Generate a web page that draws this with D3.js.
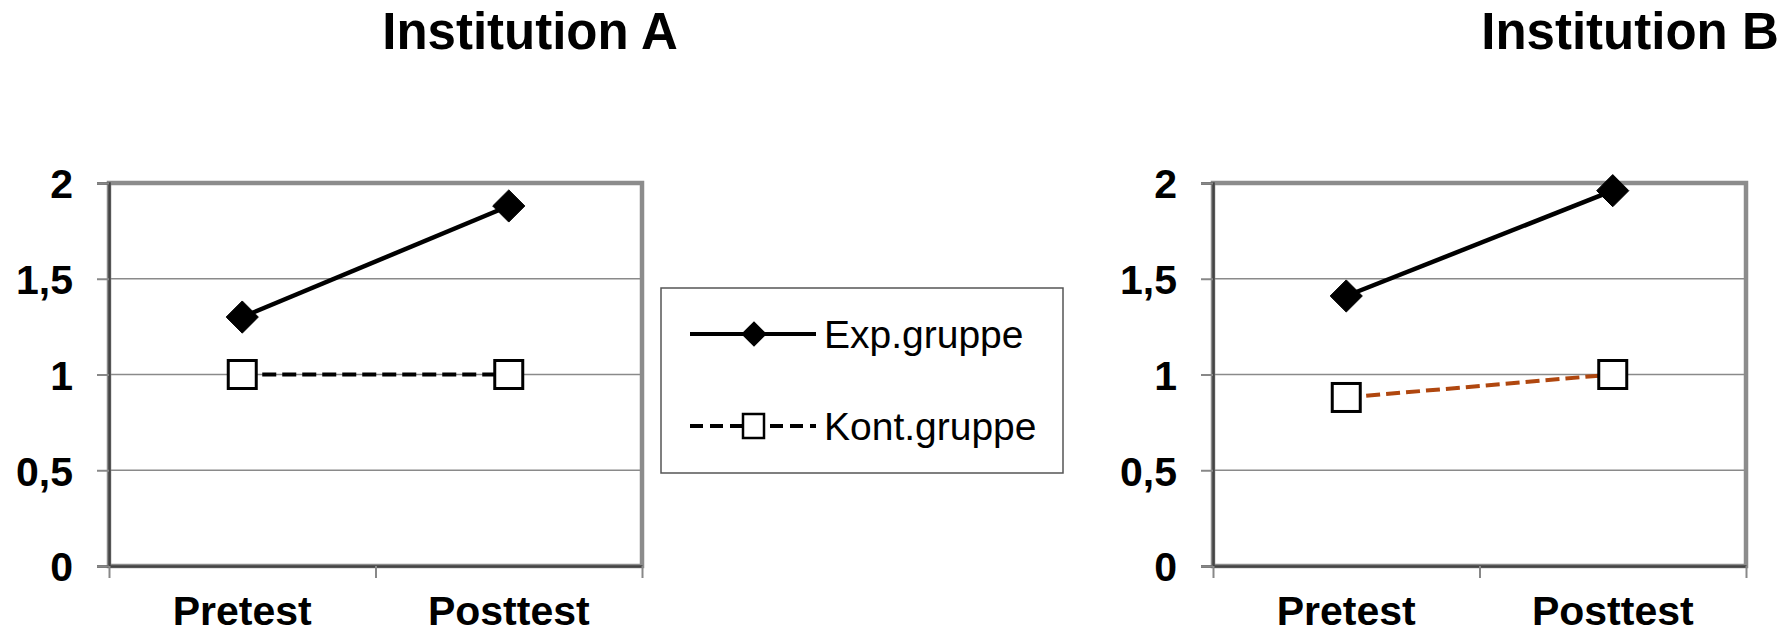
<!DOCTYPE html>
<html>
<head>
<meta charset="utf-8">
<script src="https://cdn.jsdelivr.net/npm/d3@7"></script>
<style>
  body { margin: 0; background: #fff; }
  text { font-family: "Liberation Sans", Arial, sans-serif; }
</style>
</head>
<body>
<div class="chart"></div>
<script>
const width = 1787;
const height = 633;

// data
const phases = ["Pretest", "Posttest"];
const yTicks = [0, 0.5, 1, 1.5, 2];
const groups = ["Exp.gruppe", "Kont.gruppe"];
const instA_exp = [1.30, 1.88];
const instA_kont = [1.0, 1.0];
const instB_exp = [1.41, 1.96];
const instB_kont = [0.88, 1.0];

const panels = [
  {title: "Institution A", left: 109, titleX: 530, exp: instA_exp, kont: instA_kont, kontColor: "#000"},
  {title: "Institution B", left: 1213, titleX: 1630, exp: instB_exp, kont: instB_kont, kontColor: "#b0470f"}
];

const plotW = 533;
const plotTop = 183;
const plotBottom = 566;

const de = d3.formatLocale({decimal: ",", thousands: ".", grouping: [3], currency: ["", "€"]});
const fmt = de.format(".1~f");

const svg = d3.select('.chart').append('svg')
    .attr('width', width)
    .attr('height', height)
    .style('display', 'block');

svg.append('rect').attr('width', width).attr('height', height).attr('fill', '#fff');

const y = d3.scaleLinear().domain([0, 2]).range([plotBottom, plotTop]);

const diamond = d3.symbol().type(d3.symbolDiamond2);

panels.forEach(p => {
    const x = d3.scaleBand().domain(phases).range([p.left, p.left + plotW]).padding(0);
    const xEdge = d3.scaleLinear().domain([0, phases.length]).range([p.left, p.left + plotW]);
    const g = svg.append('g');

    // title
    g.append('text')
        .attr('x', p.titleX)
        .attr('y', 49)
        .attr('text-anchor', 'middle')
        .style('font-size', '51px')
        .style('font-weight', 'bold')
        .text(p.title);

    // gridlines
    g.selectAll('.grid')
        .data([0.5, 1, 1.5])
        .enter()
        .append('line')
        .attr('x1', p.left).attr('x2', p.left + plotW)
        .attr('y1', d => y(d)).attr('y2', d => y(d))
        .attr('stroke', '#8a8a8a')
        .attr('stroke-width', 1.5);

    // frame
    g.append('rect')
        .attr('x', p.left).attr('y', plotTop)
        .attr('width', plotW).attr('height', plotBottom - plotTop)
        .attr('fill', 'none')
        .attr('stroke', '#8c8c8c')
        .attr('stroke-width', 4.5);

    // y axis
    const yAxis = g.append('g')
        .attr('transform', `translate(${p.left},0)`)
        .call(d3.axisLeft(y).tickValues(yTicks).tickFormat(fmt).tickSize(12).tickPadding(24));
    yAxis.select('.domain').attr('stroke', '#444').attr('stroke-width', 2.5);
    yAxis.selectAll('.tick line').attr('stroke', '#888').attr('stroke-width', 2);
    yAxis.selectAll('text')
        .attr('fill', '#000')
        .attr('dy', '0.36em')
        .style('font-size', '41px')
        .style('font-weight', 'bold')
        .style('font-family', '"Liberation Sans", Arial, sans-serif');

    // x axis tick marks at band edges
    const xTickAxis = g.append('g')
        .attr('transform', `translate(0,${plotBottom})`)
        .call(d3.axisBottom(xEdge).tickValues([0, 1, 2]).tickFormat('').tickSize(12).tickSizeOuter(0));
    xTickAxis.select('.domain').attr('stroke', '#444').attr('stroke-width', 2.5);
    xTickAxis.selectAll('.tick line').attr('stroke', '#888').attr('stroke-width', 2);

    // x labels
    const xAxis = g.append('g')
        .attr('transform', `translate(0,${plotBottom})`)
        .call(d3.axisBottom(x).tickSize(0).tickPadding(30));
    xAxis.select('.domain').remove();
    xAxis.selectAll('text')
        .attr('fill', '#000')
        .style('font-size', '41px')
        .style('font-weight', 'bold')
        .style('font-family', '"Liberation Sans", Arial, sans-serif');

    const cx = d => x(d) + x.bandwidth() / 2;

    const line = d3.line()
        .x(d => cx(d.phase))
        .y(d => y(d.value));

    const expData = phases.map((ph, i) => ({phase: ph, value: p.exp[i]}));
    const kontData = phases.map((ph, i) => ({phase: ph, value: p.kont[i]}));

    // Kontrollgruppe
    g.append('path')
        .datum(kontData)
        .attr('d', line)
        .attr('fill', 'none')
        .attr('stroke', p.kontColor)
        .attr('stroke-width', 4)
        .attr('stroke-dasharray', '14 6');

    g.selectAll('.kont')
        .data(kontData)
        .enter()
        .append('rect')
        .attr('x', d => cx(d.phase) - 14)
        .attr('y', d => y(d.value) - 14)
        .attr('width', 28).attr('height', 28)
        .attr('fill', '#fff')
        .attr('stroke', '#000')
        .attr('stroke-width', 3);

    // Experimentalgruppe
    g.append('path')
        .datum(expData)
        .attr('d', line)
        .attr('fill', 'none')
        .attr('stroke', '#000')
        .attr('stroke-width', 4.5);

    g.selectAll('.exp')
        .data(expData)
        .enter()
        .append('path')
        .attr('d', diamond.size(660))
        .attr('transform', d => `translate(${cx(d.phase)},${y(d.value)})`)
        .attr('fill', '#000')
        .attr('stroke', '#000')
        .attr('stroke-width', 1);
});

// legend
const legend = svg.append('g');
legend.append('rect')
    .attr('x', 661).attr('y', 288)
    .attr('width', 402).attr('height', 185)
    .attr('fill', '#fff')
    .attr('stroke', '#555')
    .attr('stroke-width', 1.5);

const legY = d3.scalePoint().domain(groups).range([334, 426]);

legend.append('line')
    .attr('x1', 690).attr('x2', 816)
    .attr('y1', legY(groups[0])).attr('y2', legY(groups[0]))
    .attr('stroke', '#000').attr('stroke-width', 4);
legend.append('path')
    .attr('d', d3.symbol().type(d3.symbolDiamond2).size(420)())
    .attr('transform', `translate(754,${legY(groups[0])})`)
    .attr('fill', '#000');

legend.append('line')
    .attr('x1', 690).attr('x2', 816)
    .attr('y1', legY(groups[1])).attr('y2', legY(groups[1]))
    .attr('stroke', '#000').attr('stroke-width', 4)
    .attr('stroke-dasharray', '13 7');
legend.append('rect')
    .attr('x', 743).attr('y', legY(groups[1]) - 12)
    .attr('width', 21).attr('height', 24)
    .attr('fill', '#fff')
    .attr('stroke', '#000')
    .attr('stroke-width', 2.5);

legend.selectAll('.label')
    .data(groups)
    .enter()
    .append('text')
    .attr('x', 824)
    .attr('y', d => legY(d) + 14)
    .style('font-size', '39px')
    .text(d => d);
</script>
</body>
</html>
